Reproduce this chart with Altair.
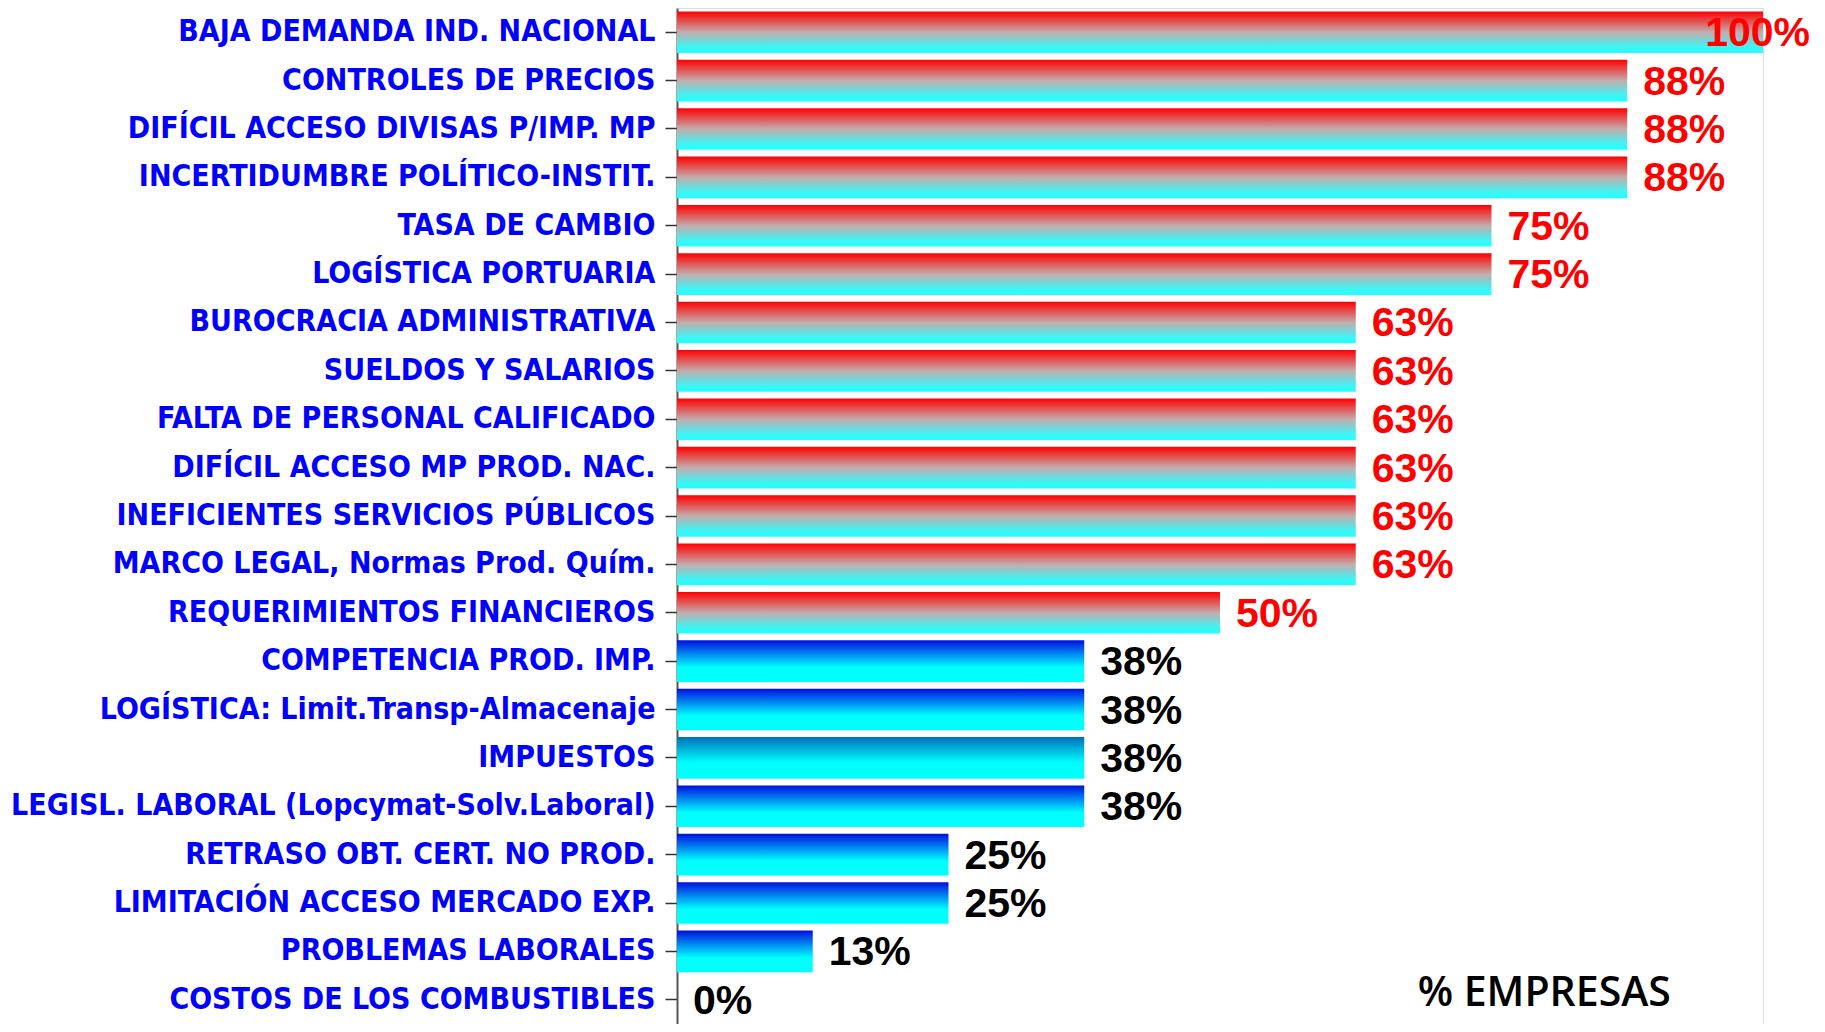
import altair as alt
import pandas as pd

categories = [
    "BAJA DEMANDA IND. NACIONAL",
    "CONTROLES DE PRECIOS",
    "DIFÍCIL ACCESO DIVISAS P/IMP. MP",
    "INCERTIDUMBRE POLÍTICO-INSTIT.",
    "TASA DE CAMBIO",
    "LOGÍSTICA PORTUARIA",
    "BUROCRACIA ADMINISTRATIVA",
    "SUELDOS Y SALARIOS",
    "FALTA DE PERSONAL CALIFICADO",
    "DIFÍCIL ACCESO MP PROD. NAC.",
    "INEFICIENTES SERVICIOS PÚBLICOS",
    "MARCO LEGAL, Normas Prod. Quím.",
    "REQUERIMIENTOS FINANCIEROS",
    "COMPETENCIA PROD. IMP.",
    "LOGÍSTICA: Limit.Transp-Almacenaje",
    "IMPUESTOS",
    "LEGISL. LABORAL (Lopcymat-Solv.Laboral)",
    "RETRASO OBT. CERT. NO PROD.",
    "LIMITACIÓN ACCESO MERCADO EXP.",
    "PROBLEMAS LABORALES",
    "COSTOS DE LOS COMBUSTIBLES",
]
values = [100, 87.5, 87.5, 87.5, 75, 75, 62.5, 62.5, 62.5, 62.5, 62.5, 62.5,
          50, 37.5, 37.5, 37.5, 37.5, 25, 25, 12.5, 0]
labels = ["100%", "88%", "88%", "88%", "75%", "75%", "63%", "63%", "63%", "63%",
          "63%", "63%", "50%", "38%", "38%", "38%", "38%", "25%", "25%", "13%", "0%"]
axis_title = "% EMPRESAS"

df = pd.DataFrame({"cat": categories, "value": values, "label": labels})

red_grad = alt.Gradient(
    gradient="linear", x1=0, y1=0, x2=0, y2=1,
    stops=[alt.GradientStop(color="#FF0000", offset=0),
           alt.GradientStop(color="#C4ACAC", offset=0.5),
           alt.GradientStop(color="#40F4F4", offset=0.85),
           alt.GradientStop(color="#22FFFF", offset=1)])
blue_grad = alt.Gradient(
    gradient="linear", x1=0, y1=0, x2=0, y2=1,
    stops=[alt.GradientStop(color="#0010E0", offset=0),
           alt.GradientStop(color="#00FFFF", offset=0.65),
           alt.GradientStop(color="#00FFFF", offset=1)])
teal_grad = alt.Gradient(
    gradient="linear", x1=0, y1=0, x2=0, y2=1,
    stops=[alt.GradientStop(color="#0070BA", offset=0),
           alt.GradientStop(color="#00FFFF", offset=0.62),
           alt.GradientStop(color="#00FFFF", offset=1)])

x_enc = alt.X("value:Q", scale=alt.Scale(domain=[0, 100], nice=False, zero=True), axis=None)
y_enc = alt.Y("cat:N", sort=categories,
              scale=alt.Scale(paddingInner=0.14, paddingOuter=0.07),
              axis=alt.Axis(title=None, labelFont="DejaVu Sans Condensed, Liberation Sans",
                            labelFontWeight="bold", labelFontSize=30,
                            labelColor="#0000FF", labelLimit=800, labelPadding=10,
                            tickSize=12, tickColor="#333333", tickWidth=1.5,
                            domainColor="#555555", domainWidth=2, labelAlign="right"))

base = alt.Chart(df)

red_bars = base.transform_filter("datum.value >= 50").mark_bar(color=red_grad).encode(x=x_enc, y=y_enc)
blue_bars = base.transform_filter("datum.value < 50 && datum.cat != 'IMPUESTOS'").mark_bar(color=blue_grad).encode(x=x_enc, y=y_enc)
teal_bars = base.transform_filter("datum.cat == 'IMPUESTOS'").mark_bar(color=teal_grad).encode(x=x_enc, y=y_enc)

text = base.transform_calculate(
    lx="min(datum.value, 93.2)"
).mark_text(align="left", baseline="middle", dx=16, dy=2,
            font="Liberation Sans", fontWeight="bold", fontSize=41).encode(
    x=alt.X("lx:Q", scale=alt.Scale(domain=[0, 100], nice=False), axis=None),
    y=alt.Y("cat:N", sort=categories),
    color=alt.condition("datum.value >= 50", alt.value("#FF0000"), alt.value("#000000")),
    text="label:N",
)

title_txt = alt.Chart(pd.DataFrame({"t": [axis_title]})).mark_text(
    align="left", baseline="middle", font="Open Sans", fontWeight=600, fontSize=41,
    color="#000000"
).encode(x=alt.datum(68.2), y=alt.value(986), text="t:N")

chart = alt.layer(red_bars, blue_bars, teal_bars, text, title_txt).properties(
    width=1086, height=1016,
    autosize=alt.AutoSizeParams(type="none"),
    padding={"left": 669, "top": 0, "right": 50, "bottom": 0},
).configure_view(
    fill="#FFFF00", stroke="#888888", strokeWidth=2
).configure(background="#FFFFFF")

chart.save("out.html", embed_options={"renderer": "svg", "actions": False})
